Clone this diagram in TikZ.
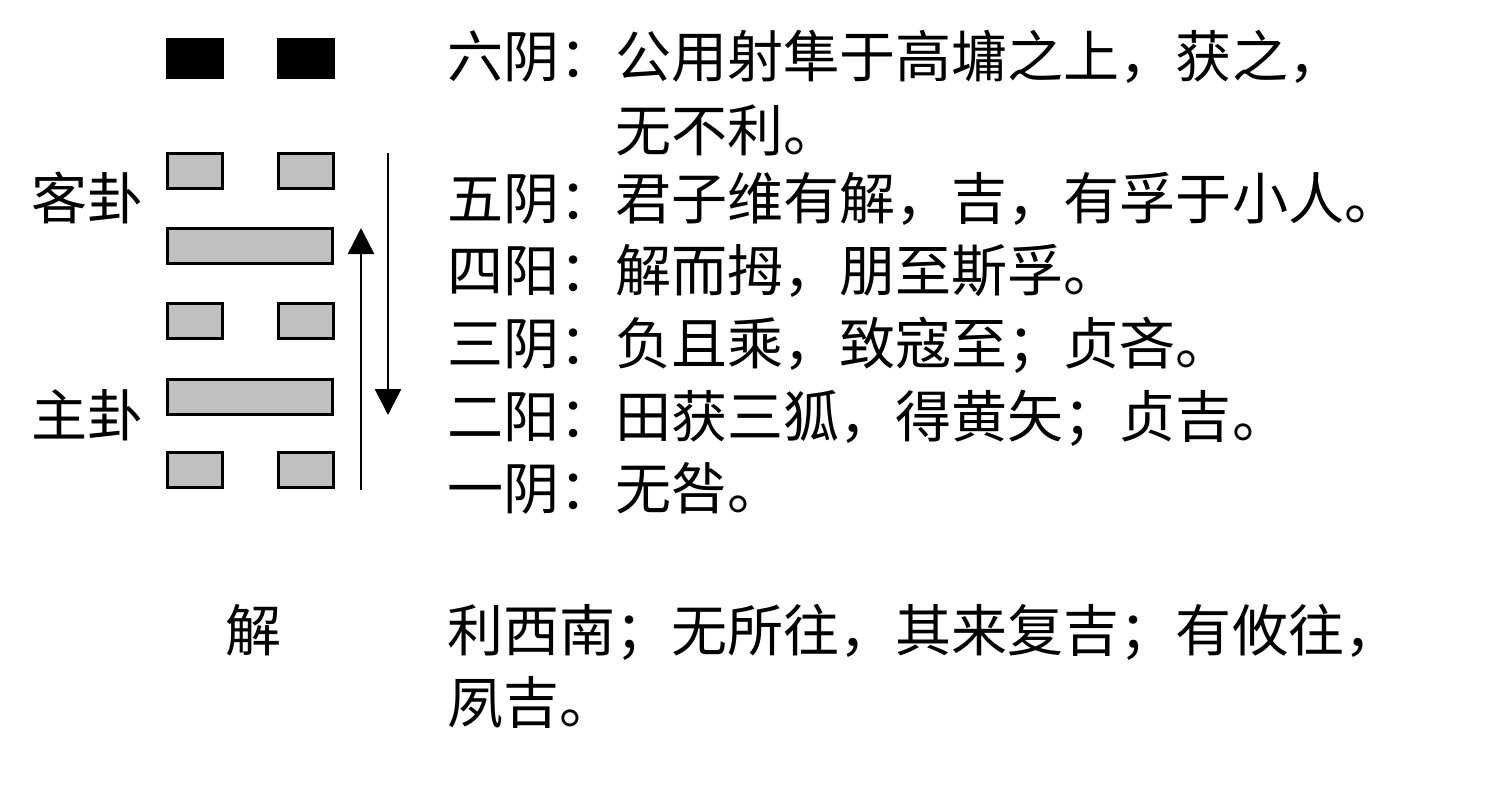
\documentclass[tikz,border=0pt]{standalone}
\usepackage{fontspec}
\newfontfamily\cjkfont{Noto Sans CJK SC}
\usepackage{xcolor}
\usetikzlibrary{arrows.meta}
\definecolor{bargray}{HTML}{C0C0C0}

\begin{document}
\begin{tikzpicture}[x=0.02cm, y=-0.02cm,
    yin/.style={draw, line width=0.06cm, fill=bargray, minimum width=1.1cm, minimum height=0.7cm, inner sep=0pt},
    yang/.style={yin, minimum width=3.3cm},
    topyin/.style={fill=black, minimum width=1.16cm, minimum height=0.82cm, inner sep=0pt},
    verse/.style={anchor=base west, inner sep=0pt, font=\cjkfont\fontsize{31.9pt}{38pt}\selectfont},
    flow/.style={line width=0.05cm, -{Triangle[length=0.52cm, width=0.52cm]}}]
    \useasboundingbox (0,0) rectangle (1500,795);

    % hexagram, top line first
    \node[topyin] (sixl) at (195,58.5) {};
    \node[topyin] (sixr) at (306,58.5) {};
    \node[yin] (fivel) at (195,170.5) {};
    \node[yin] (fiver) at (306,170.5) {};
    \node[yang] (four) at (250,245.5) {};
    \node[yin] (threel) at (195,321) {};
    \node[yin] (threer) at (306,321) {};
    \node[yang] (two) at (250,397) {};
    \node[yin] (onel) at (195,470) {};
    \node[yin] (oner) at (306,470) {};

    % up and down movement
    \coordinate (upfrom) at (361,490);
    \coordinate (upto) at (361,228);
    \coordinate (downfrom) at (388,153);
    \coordinate (downto) at (388,415);
    \draw[flow] (upfrom) -- (upto);
    \draw[flow] (downfrom) -- (downto);

    \node[verse] (guest) at (31,219) {客卦};
    \node[verse] (host) at (31,436) {主卦};
    \node[verse] (name) at (225,651) {解};

    \node[verse] (line6) at (447,77) {六阴：公用射隼于高墉之上，获之，};
    \node[verse] (line6b) at (615,151) {无不利。};
    \node[verse] (line5) at (447,219) {五阴：君子维有解，吉，有孚于小人。};
    \node[verse] (line4) at (447,291) {四阳：解而拇，朋至斯孚。};
    \node[verse] (line3) at (447,364) {三阴：负且乘，致寇至；贞吝。};
    \node[verse] (line2) at (447,437) {二阳：田获三狐，得黄矢；贞吉。};
    \node[verse] (line1) at (447,509) {一阴：无咎。};

    \node[verse] (judge) at (447,651) {利西南；无所往，其来复吉；有攸往，};
    \node[verse] (judgeb) at (447,723) {夙吉。};
\end{tikzpicture}
\end{document}
